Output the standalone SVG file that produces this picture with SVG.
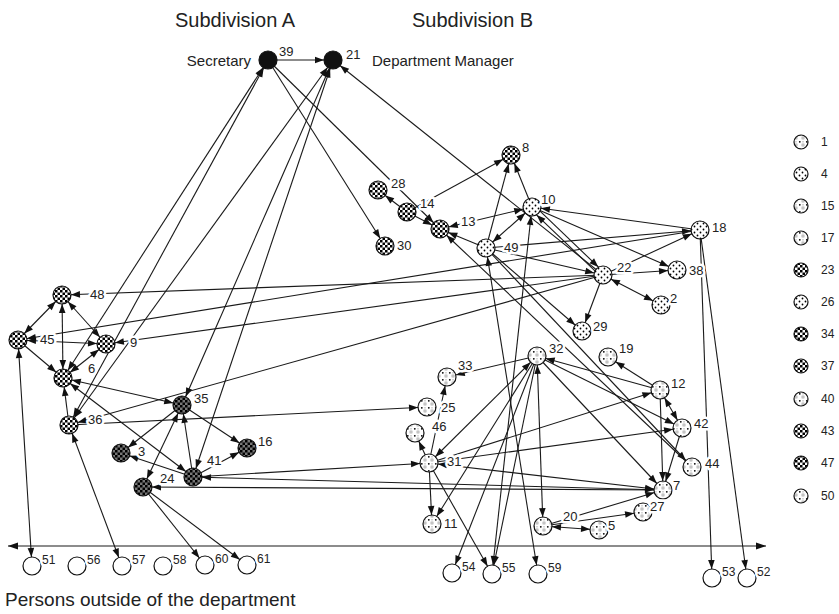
<svg xmlns="http://www.w3.org/2000/svg" width="839" height="614" viewBox="0 0 839 614">
<style>
.e{stroke:#1a1a1a;stroke-width:1.1;fill:none}
.a{marker-end:url(#ah)}
.b{marker-start:url(#ah);marker-end:url(#ah)}
.n circle{stroke:#111;stroke-width:1.2}
.t{font-family:"Liberation Sans",Arial,sans-serif;font-size:13px;fill:#222;stroke:#fff;stroke-width:5;stroke-linejoin:round;paint-order:stroke}
.s{font-size:12px}
.h{font-family:"Liberation Sans",Arial,sans-serif;font-size:20px;fill:#222}
.m{font-family:"Liberation Sans",Arial,sans-serif;font-size:15px;fill:#222}
.k{fill:url(#pc)}.d{fill:url(#pd)}.p{fill:url(#pp)}.l{fill:url(#pl)}.w{fill:#fff}.bk{fill:#111}
</style>
<defs>
<marker id="ah" markerUnits="userSpaceOnUse" markerWidth="20" markerHeight="20" refX="19" refY="0" orient="auto-start-reverse" overflow="visible"><path d="M10,0 L1,-3.3 L1,3.3 Z" fill="#111"/></marker>
<marker id="ax" markerUnits="userSpaceOnUse" markerWidth="20" markerHeight="20" refX="10" refY="0" orient="auto-start-reverse" overflow="visible"><path d="M10,0 L0,-3.5 L0,3.5 Z" fill="#111"/></marker>
<pattern id="pc" width="5" height="5" patternUnits="userSpaceOnUse"><rect width="5" height="5" fill="#fff"/><rect width="2.5" height="2.5" fill="#000"/><rect x="2.5" y="2.5" width="2.5" height="2.5" fill="#000"/></pattern>
<pattern id="pd" width="5" height="5" patternUnits="userSpaceOnUse"><rect width="5" height="5" fill="#777"/><rect width="2.5" height="2.5" fill="#000"/><rect x="2.5" y="2.5" width="2.5" height="2.5" fill="#000"/></pattern>
<pattern id="pp" width="6" height="6" patternUnits="userSpaceOnUse"><rect width="6" height="6" fill="#fff"/><circle cx="1.5" cy="1.5" r="0.9" fill="#000"/><circle cx="4.5" cy="4.5" r="0.9" fill="#000"/></pattern>
<pattern id="pl" width="7" height="7" patternUnits="userSpaceOnUse"><rect width="7" height="7" fill="#fff"/><circle cx="1.8" cy="1.8" r="0.9" fill="#000"/><rect x="4" y="4" width="2" height="2" fill="none" stroke="#999" stroke-width="0.7"/><circle cx="5" cy="1.8" r="0.6" fill="#888"/></pattern>
</defs>

<text class="h" x="175" y="27">Subdivision A</text>
<text class="h" x="412" y="27">Subdivision B</text>
<text class="h" x="5" y="606" style="font-size:19px">Persons outside of the department</text>

<g id="connectors">
<line class="e" x1="8" y1="546" x2="766" y2="546" marker-start="url(#ax)" marker-end="url(#ax)"/>
<line class="e a" x1="268" y1="60" x2="333" y2="60"/>
<line class="e a" x1="268" y1="60" x2="385" y2="246"/>
<line class="e a" x1="268" y1="60" x2="440" y2="229"/>
<line class="e b" x1="63" y1="378" x2="268" y2="60"/>
<line class="e b" x1="69" y1="425" x2="268" y2="60"/>
<line class="e b" x1="69" y1="425" x2="333" y2="60"/>
<line class="e b" x1="182" y1="405" x2="333" y2="60"/>
<line class="e b" x1="193" y1="477" x2="333" y2="60"/>
<line class="e a" x1="603" y1="275" x2="333" y2="60"/>
<line class="e a" x1="407" y1="212" x2="378" y2="190"/>
<line class="e a" x1="407" y1="212" x2="440" y2="229"/>
<line class="e a" x1="407" y1="212" x2="511" y2="155"/>
<line class="e b" x1="440" y1="229" x2="532" y2="207"/>
<line class="e b" x1="486" y1="248" x2="532" y2="207"/>
<line class="e a" x1="486" y1="248" x2="440" y2="229"/>
<line class="e a" x1="486" y1="248" x2="511" y2="155"/>
<line class="e a" x1="532" y1="207" x2="511" y2="155"/>
<line class="e a" x1="700" y1="230" x2="532" y2="207"/>
<line class="e a" x1="532" y1="207" x2="677" y2="270"/>
<line class="e a" x1="533.8" y1="205.2" x2="604.8" y2="273.2"/>
<line class="e a" x1="601.2" y1="276.8" x2="530.2" y2="208.8"/>
<line class="e a" x1="603" y1="275" x2="677" y2="270"/>
<line class="e a" x1="603" y1="275" x2="700" y2="230"/>
<line class="e b" x1="603" y1="275" x2="661" y2="305"/>
<line class="e a" x1="603" y1="275" x2="582" y2="331"/>
<line class="e a" x1="486" y1="248" x2="700" y2="230"/>
<line class="e a" x1="486" y1="248" x2="603" y2="275"/>
<line class="e a" x1="486" y1="248" x2="582" y2="331"/>
<line class="e b" x1="486" y1="248" x2="538" y2="574"/>
<line class="e a" x1="486" y1="248" x2="692" y2="467"/>
<line class="e a" x1="692" y1="467" x2="440" y2="229"/>
<line class="e b" x1="532" y1="207" x2="492" y2="574"/>
<line class="e a" x1="700" y1="230" x2="712" y2="578"/>
<line class="e a" x1="700" y1="230" x2="747" y2="578"/>
<line class="e a" x1="700" y1="230" x2="18" y2="340"/>
<line class="e a" x1="603" y1="275" x2="62" y2="295"/>
<line class="e a" x1="603" y1="275" x2="106" y2="344"/>
<line class="e a" x1="603" y1="275" x2="69" y2="425"/>
<line class="e b" x1="62" y1="295" x2="18" y2="340"/>
<line class="e b" x1="62" y1="295" x2="106" y2="344"/>
<line class="e b" x1="62" y1="295" x2="63" y2="378"/>
<line class="e a" x1="18" y1="340" x2="63" y2="378"/>
<line class="e b" x1="18" y1="340" x2="106" y2="344"/>
<line class="e b" x1="63" y1="378" x2="106" y2="344"/>
<line class="e a" x1="69" y1="425" x2="63" y2="378"/>
<line class="e b" x1="69" y1="425" x2="122" y2="566"/>
<line class="e b" x1="18" y1="340" x2="32" y2="566"/>
<line class="e b" x1="63" y1="378" x2="182" y2="405"/>
<line class="e b" x1="63" y1="378" x2="193" y2="477"/>
<line class="e a" x1="182" y1="405" x2="121" y2="453"/>
<line class="e a" x1="182" y1="405" x2="247" y2="448"/>
<line class="e b" x1="182" y1="405" x2="143" y2="487"/>
<line class="e a" x1="193" y1="477" x2="182" y2="405"/>
<line class="e a" x1="193" y1="477" x2="247" y2="448"/>
<line class="e a" x1="193" y1="477" x2="121" y2="453"/>
<line class="e b" x1="193" y1="477" x2="663" y2="490"/>
<line class="e a" x1="663" y1="490" x2="143" y2="487"/>
<line class="e a" x1="193" y1="477" x2="429" y2="463"/>
<line class="e a" x1="143" y1="487" x2="205" y2="565"/>
<line class="e a" x1="143" y1="487" x2="247" y2="565"/>
<line class="e a" x1="69" y1="425" x2="427" y2="407"/>
<line class="e a" x1="429" y1="463" x2="415" y2="433"/>
<line class="e a" x1="429" y1="463" x2="447" y2="377"/>
<line class="e a" x1="429" y1="463" x2="432" y2="524"/>
<line class="e a" x1="429" y1="463" x2="492" y2="574"/>
<line class="e a" x1="429" y1="463" x2="660" y2="390"/>
<line class="e a" x1="429" y1="463" x2="682" y2="428"/>
<line class="e b" x1="429" y1="463" x2="663" y2="490"/>
<line class="e b" x1="429" y1="463" x2="537" y2="356"/>
<line class="e a" x1="537" y1="356" x2="447" y2="377"/>
<line class="e a" x1="537" y1="356" x2="432" y2="524"/>
<line class="e a" x1="537" y1="356" x2="452" y2="573"/>
<line class="e a" x1="537" y1="356" x2="492" y2="574"/>
<line class="e b" x1="537" y1="356" x2="543" y2="526"/>
<line class="e a" x1="660" y1="390" x2="537" y2="356"/>
<line class="e a" x1="660" y1="390" x2="608" y2="357"/>
<line class="e b" x1="660" y1="390" x2="682" y2="428"/>
<line class="e a" x1="660" y1="390" x2="663" y2="490"/>
<line class="e a" x1="682" y1="428" x2="663" y2="490"/>
<line class="e a" x1="537" y1="356" x2="682" y2="428"/>
<line class="e a" x1="537" y1="356" x2="663" y2="490"/>
<line class="e a" x1="543" y1="526" x2="663" y2="490"/>
<line class="e a" x1="543" y1="526" x2="643" y2="512"/>
<line class="e b" x1="543" y1="526" x2="599" y2="530"/>
</g>

<g id="n39" class="n"><circle cx="268" cy="60" r="9" class="bk"/><text class="t" x="279" y="56">39</text><text class="m" x="251" y="66" text-anchor="end">Secretary</text></g>
<g id="n21" class="n"><circle cx="333" cy="60" r="9" class="bk"/><text class="t" x="346" y="59">21</text><text class="m" x="372" y="66">Department Manager</text></g>
<g id="n8" class="n"><circle cx="511" cy="155" r="9" class="k"/><text class="t" x="522" y="152">8</text></g>
<g id="n28" class="n"><circle cx="378" cy="190" r="9" class="k"/><text class="t" x="391" y="188">28</text></g>
<g id="n14" class="n"><circle cx="407" cy="212" r="9" class="k"/><text class="t" x="420" y="208">14</text></g>
<g id="n13" class="n"><circle cx="440" cy="229" r="9" class="k"/><text class="t" x="461" y="226">13</text></g>
<g id="n30" class="n"><circle cx="385" cy="246" r="9" class="k"/><text class="t" x="397" y="250">30</text></g>
<g id="n10" class="n"><circle cx="532" cy="207" r="9" class="p"/><text class="t" x="541" y="204">10</text></g>
<g id="n49" class="n"><circle cx="486" cy="248" r="9" class="p"/><text class="t" x="504" y="252">49</text></g>
<g id="n18" class="n"><circle cx="700" cy="230" r="9" class="p"/><text class="t" x="712" y="232">18</text></g>
<g id="n22" class="n"><circle cx="603" cy="275" r="9" class="p"/><text class="t" x="617" y="272">22</text></g>
<g id="n38" class="n"><circle cx="677" cy="270" r="9" class="p"/><text class="t" x="689" y="275">38</text></g>
<g id="n2" class="n"><circle cx="661" cy="305" r="9" class="p"/><text class="t" x="670" y="303">2</text></g>
<g id="n29" class="n"><circle cx="582" cy="331" r="9" class="p"/><text class="t" x="593" y="331">29</text></g>
<g id="n48" class="n"><circle cx="62" cy="295" r="9" class="k"/><text class="t" x="90" y="299">48</text></g>
<g id="n45" class="n"><circle cx="18" cy="340" r="9" class="k"/><text class="t" x="40" y="344">45</text></g>
<g id="n9" class="n"><circle cx="106" cy="344" r="9" class="k"/><text class="t" x="130" y="347">9</text></g>
<g id="n6" class="n"><circle cx="63" cy="378" r="9" class="k"/><text class="t" x="88" y="373">6</text></g>
<g id="n36" class="n"><circle cx="69" cy="425" r="9" class="k"/><text class="t" x="88" y="424">36</text></g>
<g id="n35" class="n"><circle cx="182" cy="405" r="9" class="d"/><text class="t" x="194" y="403">35</text></g>
<g id="n3" class="n"><circle cx="121" cy="453" r="9" class="d"/><text class="t" x="138" y="456">3</text></g>
<g id="n16" class="n"><circle cx="247" cy="448" r="9" class="d"/><text class="t" x="258" y="446">16</text></g>
<g id="n41" class="n"><circle cx="193" cy="477" r="9" class="d"/><text class="t" x="207" y="465">41</text></g>
<g id="n24" class="n"><circle cx="143" cy="487" r="9" class="d"/><text class="t" x="160" y="483">24</text></g>
<g id="n33" class="n"><circle cx="447" cy="377" r="9" class="l"/><text class="t" x="458" y="370">33</text></g>
<g id="n32" class="n"><circle cx="537" cy="356" r="9" class="l"/><text class="t" x="549" y="353">32</text></g>
<g id="n19" class="n"><circle cx="608" cy="357" r="9" class="l"/><text class="t" x="619" y="353">19</text></g>
<g id="n12" class="n"><circle cx="660" cy="390" r="9" class="l"/><text class="t" x="671" y="388">12</text></g>
<g id="n25" class="n"><circle cx="427" cy="407" r="9" class="l"/><text class="t" x="441" y="412">25</text></g>
<g id="n46" class="n"><circle cx="415" cy="433" r="9" class="l"/><text class="t" x="432" y="431">46</text></g>
<g id="n31" class="n"><circle cx="429" cy="463" r="9" class="l"/><text class="t" x="447" y="466">31</text></g>
<g id="n42" class="n"><circle cx="682" cy="428" r="9" class="l"/><text class="t" x="694" y="428">42</text></g>
<g id="n44" class="n"><circle cx="692" cy="467" r="9" class="l"/><text class="t" x="705" y="468">44</text></g>
<g id="n7" class="n"><circle cx="663" cy="490" r="9" class="l"/><text class="t" x="673" y="490">7</text></g>
<g id="n27" class="n"><circle cx="643" cy="512" r="9" class="l"/><text class="t" x="650" y="511">27</text></g>
<g id="n11" class="n"><circle cx="432" cy="524" r="9" class="l"/><text class="t" x="444" y="528">11</text></g>
<g id="n20" class="n"><circle cx="543" cy="526" r="9" class="l"/><text class="t" x="563" y="521">20</text></g>
<g id="n5" class="n"><circle cx="599" cy="530" r="9" class="l"/><text class="t" x="608" y="530">5</text></g>
<g id="n51" class="n"><circle cx="32" cy="566" r="9" class="w"/><text class="t s" x="42" y="564">51</text></g>
<g id="n56" class="n"><circle cx="77" cy="566" r="9" class="w"/><text class="t s" x="87" y="564">56</text></g>
<g id="n57" class="n"><circle cx="122" cy="566" r="9" class="w"/><text class="t s" x="132" y="564">57</text></g>
<g id="n58" class="n"><circle cx="163" cy="566" r="9" class="w"/><text class="t s" x="173" y="564">58</text></g>
<g id="n60" class="n"><circle cx="205" cy="565" r="9" class="w"/><text class="t s" x="215" y="563">60</text></g>
<g id="n61" class="n"><circle cx="247" cy="565" r="9" class="w"/><text class="t s" x="257" y="563">61</text></g>
<g id="n54" class="n"><circle cx="452" cy="573" r="9" class="w"/><text class="t s" x="462" y="571">54</text></g>
<g id="n55" class="n"><circle cx="492" cy="574" r="9" class="w"/><text class="t s" x="502" y="572">55</text></g>
<g id="n59" class="n"><circle cx="538" cy="574" r="9" class="w"/><text class="t s" x="548" y="572">59</text></g>
<g id="n53" class="n"><circle cx="712" cy="578" r="9" class="w"/><text class="t s" x="722" y="576">53</text></g>
<g id="n52" class="n"><circle cx="747" cy="578" r="9" class="w"/><text class="t s" x="757" y="576">52</text></g>

<g id="legend" class="n">
<circle cx="801" cy="142" r="7" class="l"/><text class="t s" x="821" y="146">1</text>
<circle cx="801" cy="174" r="7" class="p"/><text class="t s" x="821" y="178">4</text>
<circle cx="801" cy="206" r="7" class="l"/><text class="t s" x="821" y="210">15</text>
<circle cx="801" cy="238" r="7" class="l"/><text class="t s" x="821" y="242">17</text>
<circle cx="801" cy="270" r="7" class="k"/><text class="t s" x="821" y="274">23</text>
<circle cx="801" cy="302" r="7" class="p"/><text class="t s" x="821" y="306">26</text>
<circle cx="801" cy="334" r="7" class="k"/><text class="t s" x="821" y="338">34</text>
<circle cx="801" cy="366" r="7" class="k"/><text class="t s" x="821" y="370">37</text>
<circle cx="801" cy="399" r="7" class="l"/><text class="t s" x="821" y="403">40</text>
<circle cx="801" cy="431" r="7" class="k"/><text class="t s" x="821" y="435">43</text>
<circle cx="801" cy="463" r="7" class="k"/><text class="t s" x="821" y="467">47</text>
<circle cx="801" cy="496" r="7" class="l"/><text class="t s" x="821" y="500">50</text>
</g>
</svg>
